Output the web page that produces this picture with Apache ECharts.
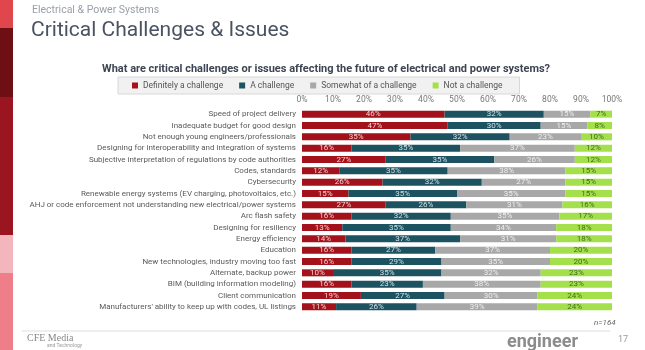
<!DOCTYPE html>
<html lang="en">
<head>
  <meta charset="UTF-8">
  <title>Critical Challenges & Issues</title>
  <style>
    body{
      margin: 0;
    }
    .chart{
      width: 645px;
      height: 350px;
      background: white;
    }
  </style>
</head>
<body>
<div class="chart"></div>
<script src="https://cdn.jsdelivr.net/npm/echarts@6/dist/echarts.min.js"></script>
<script>
  const categories = [
    'Speed of project delivery',
    'Inadequate budget for good design',
    'Not enough young engineers/professionals',
    'Designing for interoperability and integration of systems',
    'Subjective interpretation of regulations by code authorities',
    'Codes, standards',
    'Cybersecurity',
    'Renewable energy systems (EV charging, photovoltaics, etc.)',
    'AHJ or code enforcement not understanding new electrical/power systems',
    'Arc flash safety',
    'Designing for resiliency',
    'Energy efficiency',
    'Education',
    'New technologies, industry moving too fast',
    'Alternate, backup power',
    'BIM (building information modeling)',
    'Client communication',
    "Manufacturers' ability to keep up with codes, UL listings"
  ];
  const definitely = [46, 47, 35, 16, 27, 12, 26, 15, 27, 16, 13, 14, 16, 16, 10, 16, 19, 11];
  const aChallenge = [32, 30, 32, 35, 35, 35, 32, 35, 26, 32, 35, 37, 27, 29, 35, 23, 27, 26];
  const somewhat = [15, 15, 23, 37, 26, 38, 27, 35, 31, 35, 34, 31, 37, 35, 32, 38, 30, 39];
  const notChallenge = [7, 8, 10, 12, 12, 15, 15, 15, 16, 17, 18, 18, 20, 20, 23, 23, 24, 24];

  const names = ['Definitely a challenge', 'A challenge', 'Somewhat of a challenge', 'Not a challenge'];
  const colors = ['#a3121b', '#1d5260', '#a8a8a8', '#a3e04c'];
  const labelColors = ['#f3d0d0', '#cfe0e4', '#eeeeee', '#3f6e1c'];
  const values = [definitely, aChallenge, somewhat, notChallenge];

  const container = document.querySelector('.chart');
  const instance = echarts.init(container);

  const font = 'Roboto, sans-serif';

  const series = names.map((name, i) => ({
    name: name,
    type: 'bar',
    stack: 'total',
    barWidth: 7,
    itemStyle: {color: colors[i]},
    label: {
      show: true,
      position: 'inside',
      formatter: '{c}%',
      fontSize: 8,
      fontFamily: font,
      color: labelColors[i]
    },
    data: values[i]
  }));

  const option = {
    animation: false,
    color: colors,
    title: [
      {
        text: 'Electrical & Power Systems',
        left: 27, top: 0,
        textStyle: {fontSize: 10.5, fontWeight: 'normal', color: '#9aa0a8', fontFamily: font}
      },
      {
        text: 'Critical Challenges & Issues',
        left: 26, top: 15,
        textStyle: {fontSize: 21, fontWeight: 'normal', color: '#4a5361', fontFamily: font}
      },
      {
        text: 'What are critical challenges or issues affecting the future of electrical and power systems?',
        left: 97, top: 59,
        textStyle: {fontSize: 11, fontWeight: 'bold', color: '#3d4552', fontFamily: font}
      }
    ],
    legend: {
      left: 118, top: 77,
      itemWidth: 6, itemHeight: 6,
      itemGap: 16,
      padding: [4, 17, 4, 14],
      backgroundColor: '#f1f1f1',
      borderColor: '#d8d8d8',
      borderWidth: 1,
      textStyle: {fontSize: 8.5, color: '#555', fontFamily: font},
      data: names.map(n => ({name: n, icon: 'rect'}))
    },
    grid: {left: 302, right: 33, top: 108.5, bottom: 37.5},
    xAxis: {
      type: 'value',
      position: 'top',
      min: 0, max: 100, interval: 10,
      axisLabel: {formatter: '{value}%', fontSize: 8.5, color: '#777', fontFamily: font, margin: 4},
      axisLine: {show: false},
      axisTick: {show: false},
      splitLine: {show: false}
    },
    yAxis: {
      type: 'category',
      inverse: true,
      data: categories,
      axisLabel: {interval: 0, fontSize: 8, color: '#5a5a5a', fontFamily: font, margin: 6},
      axisLine: {show: false},
      axisTick: {show: false}
    },
    series: series,
    graphic: [
      {type: 'rect', shape: {x: 0, y: 0, width: 13, height: 28}, style: {fill: '#e0474c'}},
      {type: 'rect', shape: {x: 0, y: 28, width: 13, height: 69}, style: {fill: '#6e0f14'}},
      {type: 'rect', shape: {x: 0, y: 97, width: 13, height: 138}, style: {fill: '#9b1520'}},
      {type: 'rect', shape: {x: 0, y: 235, width: 13, height: 38}, style: {fill: '#f4b6bd'}},
      {type: 'rect', shape: {x: 0, y: 273, width: 13, height: 77}, style: {fill: '#ee7f88'}},
      {type: 'line', shape: {x1: 22, y1: 331, x2: 610, y2: 331}, style: {stroke: '#dddddd', lineWidth: 1}},
      {type: 'text', left: 594, top: 319, style: {text: 'n=164', fontSize: 8, fontStyle: 'italic', fill: '#666', fontFamily: font}},
      {type: 'text', left: 27, top: 333, style: {text: 'CFE Media', fontSize: 10, fill: '#888', fontFamily: 'Liberation Serif, serif'}},
      {type: 'text', left: 47, top: 343, style: {text: 'and Technology', fontSize: 5, fill: '#999', fontFamily: font}},
      {type: 'text', left: 507, top: 333, style: {text: 'engineer', fontSize: 18, fontWeight: 'bold', fill: '#8c8c8c', fontFamily: font}},
      {type: 'text', left: 618, top: 335, style: {text: '17', fontSize: 9, fill: '#999', fontFamily: font}}
    ]
  };
  instance.setOption(option);
</script>
</body>
</html>
